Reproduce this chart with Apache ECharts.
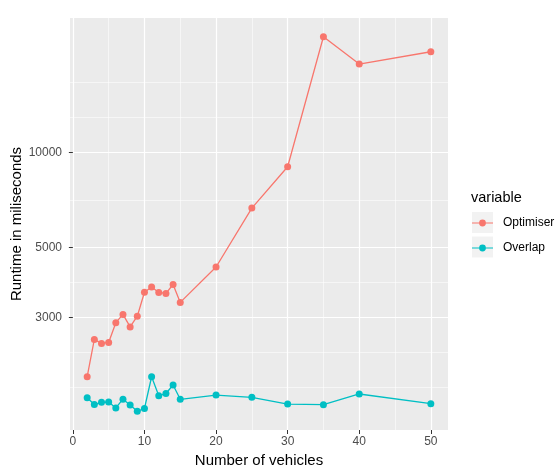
<!DOCTYPE html>
<html>
<head>
<meta charset="utf-8">
<script src="https://cdn.jsdelivr.net/npm/echarts@6/dist/echarts.min.js"></script>
<style>
html,body{margin:0;padding:0;background:#fff;}
#chart{width:555px;height:467px;}
</style>
</head>
<body>
<div id="chart"></div>
<script>
const xValues = [2,3,4,5,6,7,8,9,10,11,12,13,14,15,20,25,30,35,40,50];
const optimiser = [1941,2550,2477,2495,2882,3062,2794,3022,3601,3741,3596,3570,3810,3343,4331,6661,9010,23320,19100,20893];
const overlap = [1665,1584,1610,1614,1545,1647,1579,1508,1539,1941,1690,1717,1827,1646,1698,1670,1590,1582,1711,1594];
const xTicks = [0,10,20,30,40,50];
const xMinorTicks = [5,15,25,35,45];
const yTicks = [3000,5000,10000];
const yMinorTicks = [1800,2324,3873,7071,12910,16667];
const seriesNames = ['Optimiser','Overlap'];
const seriesColors = ['#F8766D','#00BFC4'];

const FONT = 'Liberation Sans, Arial, sans-serif';
const chart = echarts.init(document.getElementById('chart'), null, {renderer:'canvas'});

const legendIcon = 'path://M0,3 L21,3 L21,4.2 L0,4.2 Z M7.1,3.6 A3.4,3.4 0 1 1 13.9,3.6 A3.4,3.4 0 1 1 7.1,3.6 Z';

const option = {
  animation: false,
  textStyle: {fontFamily: FONT},
  title: {
    text: 'variable', left: 471, top: 190, padding: 0,
    textStyle: {fontSize: 14.5, fontWeight: 'normal', color: '#000', fontFamily: FONT}
  },
  graphic: [
    {type:'rect', shape:{x:472, y:212, width:21, height:21}, style:{fill:'#F2F2F2'}, z:0, silent:true},
    {type:'rect', shape:{x:472, y:236.5, width:21, height:21}, style:{fill:'#F2F2F2'}, z:0, silent:true}
  ],
  legend: {
    orient: 'vertical', left: 472, top: 216, padding: 0,
    itemWidth: 21, itemHeight: 7, itemGap: 11,
    icon: legendIcon,
    data: seriesNames,
    textStyle: {fontSize: 12, color: '#000', lineHeight: 14, padding: [0,0,0,5], fontFamily: FONT},
    selectedMode: false
  },
  grid: {
    left: 70, right: 107, top: 18, bottom: 37,
    outerBoundsMode: 'none', containLabel: false,
    show: true, backgroundColor: '#EBEBEB', borderWidth: 0
  },
  xAxis: [
    {
      type: 'value', min: -0.4, max: 52.4,
      name: 'Number of vehicles', nameLocation: 'middle', nameGap: 23, nameMoveOverlap: false,
      nameTextStyle: {fontSize: 15, color: '#000', fontFamily: FONT},
      axisLine: {show: false},
      axisTick: {show: true, customValues: xTicks, length: 4, lineStyle: {color: '#333333', width: 1}},
      axisLabel: {customValues: xTicks, fontSize: 12, color: '#4D4D4D', margin: 6, fontFamily: FONT, formatter: v => String(v)},
      splitLine: {show: true, lineStyle: {color: '#FFFFFF', width: 1.2}},
      z: 1
    },
    {
      type: 'value', min: -0.4, max: 52.4, position: 'bottom',
      axisLine: {show: false},
      axisTick: {show: false, customValues: xMinorTicks},
      axisLabel: {show: false, customValues: xMinorTicks},
      splitLine: {show: true, lineStyle: {color: '#FFFFFF', width: 0.55}},
      z: 0
    }
  ],
  yAxis: [
    {
      type: 'log', logBase: 10, min: 1315, max: 26740,
      name: 'Runtime in miliseconds', nameLocation: 'middle', nameGap: 46, nameMoveOverlap: false,
      nameTextStyle: {fontSize: 15, color: '#000', fontFamily: FONT},
      axisLine: {show: false},
      axisTick: {show: true, customValues: yTicks, length: 4, lineStyle: {color: '#333333', width: 1}},
      axisLabel: {customValues: yTicks, fontSize: 12, color: '#4D4D4D', margin: 8, fontFamily: FONT, formatter: v => String(v)},
      splitLine: {show: true, lineStyle: {color: '#FFFFFF', width: 1.2}},
      minorTick: {show: false}, minorSplitLine: {show: false},
      z: 1
    },
    {
      type: 'log', logBase: 10, min: 1315, max: 26740, position: 'left',
      axisLine: {show: false},
      axisTick: {show: false, customValues: yMinorTicks},
      axisLabel: {show: false, customValues: yMinorTicks},
      splitLine: {show: true, lineStyle: {color: '#FFFFFF', width: 0.55}},
      z: 0
    }
  ],
  series: [
    {
      name: seriesNames[0], type: 'line', xAxisIndex: 0, yAxisIndex: 0,
      data: xValues.map((x, i) => [x, optimiser[i]]),
      symbol: 'circle', symbolSize: 7, showSymbol: true,
      itemStyle: {color: seriesColors[0]},
      lineStyle: {color: seriesColors[0], width: 1.3},
      z: 3
    },
    {
      name: seriesNames[1], type: 'line', xAxisIndex: 0, yAxisIndex: 0,
      data: xValues.map((x, i) => [x, overlap[i]]),
      symbol: 'circle', symbolSize: 7, showSymbol: true,
      itemStyle: {color: seriesColors[1]},
      lineStyle: {color: seriesColors[1], width: 1.3},
      z: 3
    }
  ]
};
chart.setOption(option);
</script>
</body>
</html>
